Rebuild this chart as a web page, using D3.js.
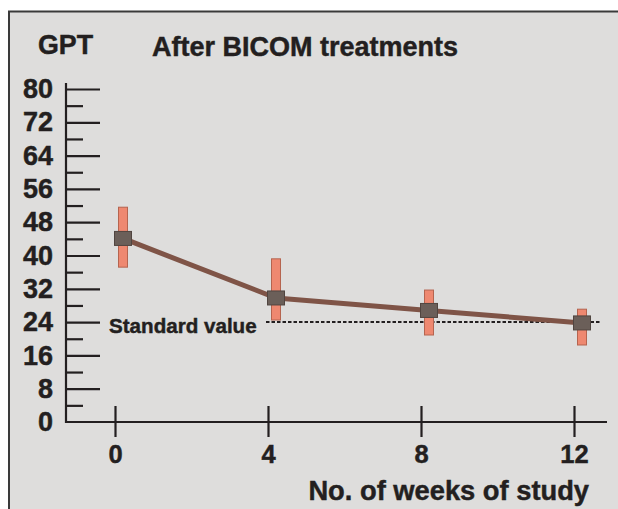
<!DOCTYPE html>
<html><head><meta charset="utf-8">
<script src="https://cdn.jsdelivr.net/npm/d3@7"></script>
<style>
html,body{margin:0;padding:0;background:#fff;}
svg{display:block;font-family:"Liberation Sans",Arial,sans-serif;font-weight:bold;}
svg text{stroke:#231f20;stroke-width:0.45px;}
</style></head>
<body><svg id="c" width="618" height="509"></svg>
<script>
// Data
const weeks = [0, 4, 8, 12];
const gptMean = [44.1, 29.8, 26.8, 23.8];
const gptLow = [37.2, 24.5, 20.9, 18.5];
const gptHigh = [51.6, 39.2, 31.7, 27.1];
const standardValue = 24;
const yMajorTicks = [0, 8, 16, 24, 32, 40, 48, 56, 64, 72, 80];
const yMinorTicks = [4, 12, 20, 28, 36, 44, 52, 60, 68, 76];
const xTicks = [0, 4, 8, 12];
const yTitle = "GPT";
const chartTitle = "After BICOM treatments";
const xTitle = "No. of weeks of study";
const stdLabel = "Standard value";

const svg = d3.select("#c");
const ink = "#231f20";

// background frame
svg.append("rect").attr("x", 9).attr("y", 11).attr("width", 618).attr("height", 509).attr("fill", "#dedddc");
svg.append("path").attr("d", "M9,509V11.5H618").attr("fill", "none").attr("stroke", "#3a3a3a").attr("stroke-width", 2);

const axisX = 66, axisY = 422;
const x = d3.scaleLinear().domain([0, 12]).range([115, 574]);
const y = d3.scaleLinear().domain([0, 80]).range([422, 89]);
const markOffset = 8;

// axis lines
svg.append("line").attr("x1", axisX).attr("x2", axisX).attr("y1", 83).attr("y2", axisY + 1)
  .attr("stroke", ink).attr("stroke-width", 2.2);
svg.append("line").attr("x1", axisX - 1).attr("x2", 607).attr("y1", axisY).attr("y2", axisY)
  .attr("stroke", ink).attr("stroke-width", 2.2);

// y axis major
const yAx = svg.append("g").attr("transform", `translate(${axisX},0)`)
  .call(d3.axisLeft(y).tickValues(yMajorTicks).tickSizeInner(-34).tickSizeOuter(0).tickPadding(13).tickFormat(d3.format("d")));
yAx.select(".domain").remove();
yAx.selectAll("line").attr("stroke", ink).attr("stroke-width", 2.2);
yAx.selectAll("text").attr("fill", ink).attr("font-size", 27).attr("font-family", null);
yAx.selectAll(".tick").filter(d => d === 0).select("line").remove();

// y axis minor
const yMin = svg.append("g").attr("transform", `translate(${axisX},0)`)
  .call(d3.axisLeft(y).tickValues(yMinorTicks).tickSizeInner(-17).tickSizeOuter(0).tickFormat(""));
yMin.select(".domain").remove();
yMin.selectAll("line").attr("stroke", ink).attr("stroke-width", 2.2);

// x axis
const xAx = svg.append("g").attr("transform", `translate(0,${axisY})`)
  .call(d3.axisBottom(x).tickValues(xTicks).tickSizeInner(15).tickSizeOuter(0).tickPadding(8).tickFormat(d3.format("d")));
xAx.select(".domain").remove();
xAx.selectAll("line").attr("y1", -16).attr("stroke", ink).attr("stroke-width", 2.2);
xAx.selectAll("text").attr("fill", ink).attr("font-size", 25.5).attr("font-family", null);

// titles
svg.append("text").attr("x", 38).attr("y", 54).attr("font-size", 26.8).attr("fill", ink).text(yTitle);
svg.append("text").attr("x", 152).attr("y", 56).attr("font-size", 27).attr("fill", ink).text(chartTitle);
svg.append("text").attr("x", 589).attr("y", 500).attr("text-anchor", "end").attr("font-size", 27.3).attr("fill", ink).text(xTitle);

// standard value
svg.append("text").attr("x", 109).attr("y", 333).attr("font-size", 20.6).attr("fill", ink).text(stdLabel);
svg.append("line").attr("x1", 266).attr("x2", 601).attr("y1", y(standardValue)).attr("y2", y(standardValue))
  .attr("stroke", ink).attr("stroke-width", 2).attr("stroke-dasharray", "3.5,2");

const pts = weeks.map((w, i) => ({w, m: gptMean[i], lo: gptLow[i], hi: gptHigh[i]}));

// error bars
svg.selectAll(".eb").data(pts).join("rect").attr("class", "eb")
  .attr("x", d => x(d.w) + markOffset - 4.5).attr("width", 9)
  .attr("y", d => y(d.hi)).attr("height", d => y(d.lo) - y(d.hi))
  .attr("fill", "#ee8870").attr("stroke", "#b5644f").attr("stroke-width", 1);

// line
svg.append("path").datum(pts)
  .attr("d", d3.line().x(d => x(d.w) + markOffset).y(d => y(d.m)))
  .attr("fill", "none").attr("stroke", "#7f5447").attr("stroke-width", 5).attr("stroke-linejoin", "round");

// squares
svg.selectAll(".sq").data(pts).join("rect").attr("class", "sq")
  .attr("x", d => x(d.w) + markOffset - 8.5).attr("width", 17)
  .attr("y", d => y(d.m) - 7).attr("height", 14)
  .attr("fill", "#6b5f59").attr("stroke", "#504540").attr("stroke-width", 1);
</script></body></html>
